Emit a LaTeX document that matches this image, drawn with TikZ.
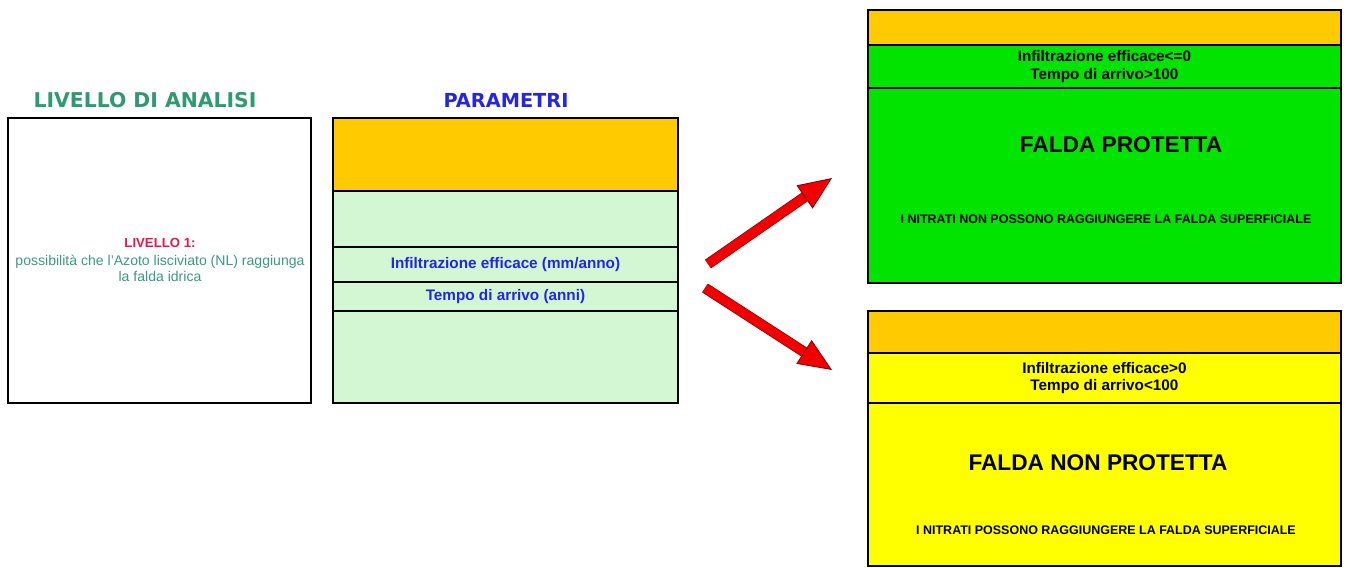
\documentclass[tikz,border=0pt]{standalone}
\usepackage{fontspec}
\setmainfont{Liberation Sans}
\newfontfamily\headfont{DejaVu Sans}
\usetikzlibrary{arrows.meta,positioning}
\definecolor{bandorange}{HTML}{FFCA00}
\definecolor{paramgreen}{HTML}{D3F6D3}
\definecolor{safegreen}{HTML}{00E400}
\definecolor{riskyellow}{HTML}{FFFF00}
\definecolor{titleteal}{HTML}{2E9A70}
\definecolor{textteal}{HTML}{3C9A82}
\definecolor{levelred}{HTML}{E8174A}
\definecolor{parblue}{HTML}{2525E6}
\definecolor{arrowred}{HTML}{F20000}
\definecolor{arrowdark}{HTML}{8A0000}

\tikzset{
  band/.style={draw=black, line width=0.9pt, inner sep=0pt, outer sep=0pt, anchor=north west, align=center},
  condtext/.style={font=\bfseries\fontsize{8.7}{9.8}\selectfont},
  bigtext/.style={font=\bfseries\fontsize{12.9}{15}\selectfont},
  notetext/.style={font=\bfseries\fontsize{7.1}{8.5}\selectfont},
  redarrow/.style={line width=5.2pt, arrowred,
    -{Triangle[length=19pt, width=16pt, line width=0.5pt, color=arrowdark, fill=arrowred]},
    preaction={draw=arrowdark, line width=6pt, -, shorten >=18pt}},
}

\begin{document}
\begin{tikzpicture}[x=0.02cm, y=-0.02cm]
    \useasboundingbox (0,0) rectangle (1350,568);

    % Titles
    \node[font=\headfont\bfseries\fontsize{11.6}{13}\selectfont, text=titleteal] (anatitle) at (145,100) {LIVELLO DI ANALISI};
    \node[font=\headfont\bfseries\fontsize{11}{13}\selectfont, text=parblue] (partitle) at (506,100) {PARAMETRI};

    % Livello di analisi
    \node[band, fill=white, minimum width=6.06cm, minimum height=5.70cm] (level) at (8,118) {};
    \node[font=\bfseries\fontsize{7.5}{9}\selectfont, text=levelred] (levhead) at (160,243) {LIVELLO 1:};
    \node[font=\fontsize{8}{9}\selectfont, text=textteal, align=center] (levtext) at (160,268) {possibilità che l'Azoto lisciviato (NL) raggiunga\\la falda idrica};

    % Parametri
    \node[band, fill=bandorange, minimum width=6.90cm, minimum height=1.46cm] (parhead) at (333,118) {};
    \node[band, fill=paramgreen, minimum width=6.90cm, minimum height=1.12cm, below=0pt of parhead] (parrow) {};
    \node[band, condtext, text=parblue, fill=paramgreen, minimum width=6.90cm, minimum height=0.70cm, below=0pt of parrow] (parinf) {Infiltrazione efficace (mm/anno)};
    \node[band, condtext, text=parblue, fill=paramgreen, minimum width=6.90cm, minimum height=0.58cm, below=0pt of parinf] (partime) {Tempo di arrivo (anni)};
    \node[band, fill=paramgreen, minimum width=6.90cm, minimum height=1.84cm, below=0pt of partime] (parfoot) {};

    % Falda protetta
    \node[band, fill=bandorange, minimum width=9.46cm, minimum height=0.70cm] (prothead) at (868,10) {};
    \node[band, condtext, fill=safegreen, minimum width=9.46cm, minimum height=0.86cm, below=0pt of prothead] (protcond) {Infiltrazione efficace<=0\\Tempo di arrivo>100};
    \node[band, fill=safegreen, minimum width=9.46cm, minimum height=3.90cm, below=0pt of protcond] (protbody) {};
    \node[bigtext] (prottitle) at (1121,145) {FALDA PROTETTA};
    \node[notetext] (protnote) at (1106,219) {I NITRATI NON POSSONO RAGGIUNGERE LA FALDA SUPERFICIALE};

    % Falda non protetta
    \node[band, fill=bandorange, minimum width=9.46cm, minimum height=0.84cm] (riskhead) at (868,311) {};
    \node[band, condtext, fill=riskyellow, minimum width=9.46cm, minimum height=1.00cm, below=0pt of riskhead] (riskcond) {Infiltrazione efficace>0\\Tempo di arrivo<100};
    \node[band, fill=riskyellow, minimum width=9.46cm, minimum height=3.26cm, below=0pt of riskcond] (riskbody) {};
    \node[bigtext] (risktitle) at (1098,463) {FALDA NON PROTETTA};
    \node[notetext] (risknote) at (1106,530) {I NITRATI POSSONO RAGGIUNGERE LA FALDA SUPERFICIALE};

    % Arrows
    \coordinate (upstart) at (708,264);
    \coordinate (upend) at (832,178);
    \coordinate (downstart) at (705,288);
    \coordinate (downend) at (832,370);
    \draw[redarrow] (upstart) -- (upend);
    \draw[redarrow] (downstart) -- (downend);
\end{tikzpicture}
\end{document}
